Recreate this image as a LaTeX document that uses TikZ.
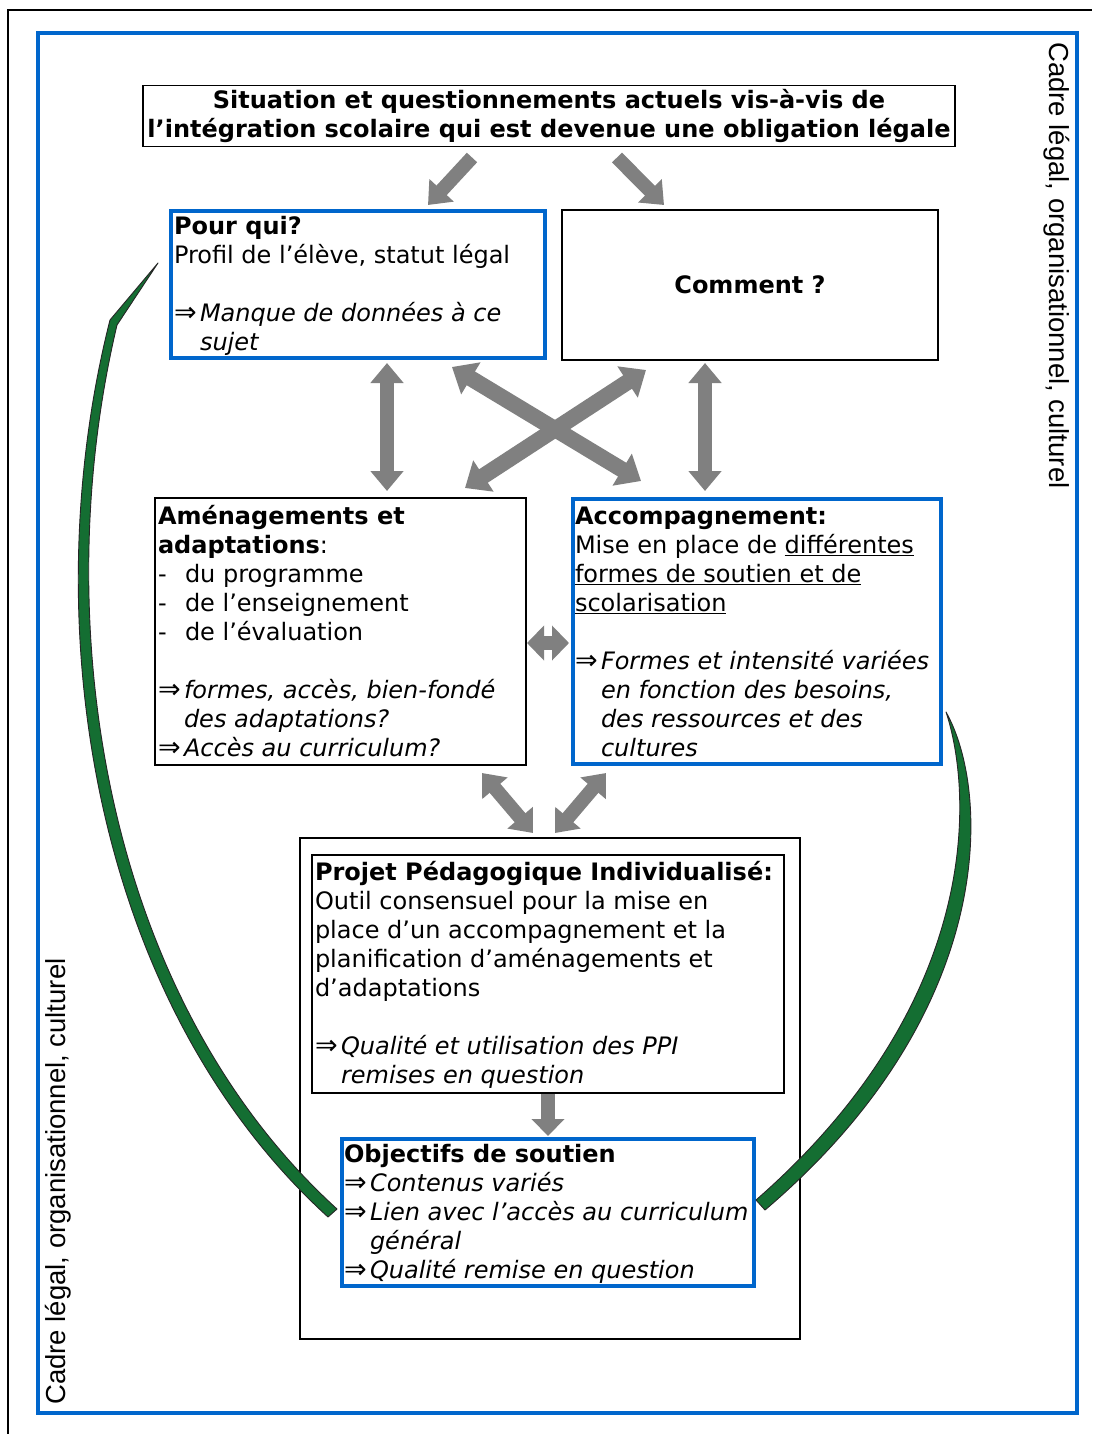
\documentclass[tikz,border=0pt]{standalone}
\usepackage{fontspec}
\setmainfont{DejaVu Sans}
\newfontfamily\sidefont{Liberation Sans}
\usetikzlibrary{arrows.meta,calc}

\definecolor{frameblue}{RGB}{0,102,204}
\definecolor{arrowgray}{RGB}{128,128,128}
\definecolor{leafgreen}{RGB}{20,110,50}

% implication arrow with hanging indent, and list dash
\newcommand\imp{\makebox[26pt][l]{\fontsize{27}{27}\selectfont ⇒}}
\newcommand\ind{\hspace*{26pt}}
\newcommand\itemdash{\makebox[27pt][l]{-}}

\tikzset{
  boxbase/.style={draw, outer sep=0pt, inner sep=0pt, anchor=north west},
  plainbox/.style={boxbase, line width=1.3pt},
  bluebox/.style={boxbase, draw=frameblue, line width=4pt},
  txt/.style={inner sep=0pt, outer sep=0pt, anchor=base west, font=\fontsize{24}{29}\selectfont},
  sidetext/.style={inner sep=0pt, font=\sidefont\fontsize{27.5}{30}\selectfont},
  garrow/.style={draw=arrowgray, line width=14pt, -{Triangle[length=20pt,width=32pt]}},
  gdouble/.style={draw=arrowgray, line width=14pt,
     {Triangle[length=20pt,width=32pt]}-{Triangle[length=20pt,width=32pt]}},
  gcross/.style={draw=arrowgray, line width=16pt,
     {Triangle[length=22pt,width=36pt]}-{Triangle[length=22pt,width=36pt]}},
  gshort/.style={draw=arrowgray, line width=14pt,
     {Triangle[length=17pt,width=34pt]}-{Triangle[length=17pt,width=34pt]}},
  gdown/.style={draw=arrowgray, line width=14pt, -{Triangle[length=17pt,width=32pt]}},
  leaf/.style={fill=leafgreen, draw=black!85, line width=0.9pt, line join=round},
}

\begin{document}
\begin{tikzpicture}[x=1pt, y=-1pt]
\useasboundingbox (0,0) rectangle (1092,1434);
\fill[white] (0,0) rectangle (1092,1434);

% outer frames
\draw[line width=1.5pt] (8,1434) -- (8,10) -- (1092,10);
\draw[frameblue, line width=4pt] (38,33) rectangle (1077,1413);

% side labels
\node[sidetext, rotate=-90, anchor=west] (cadreR) at (1057,42) {Cadre légal, organisationnel, culturel};
\node[sidetext, rotate=90, anchor=west] (cadreL) at (58,1405) {Cadre légal, organisationnel, culturel};

% top question
\node[draw, line width=1.3pt, outer sep=0pt, minimum width=812pt, minimum height=61pt,
      align=center, font=\bfseries\fontsize{24}{29}\selectfont] (top) at (549,116)
  {Situation et questionnements actuels vis-à-vis de\\l’intégration scolaire qui est devenue une obligation légale};

% boxes
\node[bluebox, minimum width=374pt, minimum height=147pt] (pour) at (171,211) {};
\node[txt] (pourtxt) at (174,234) {\parbox[t]{370pt}{%
  \textbf{Pour qui?}\\
  Profil de l’élève, statut légal\\[29pt]
  \imp\textit{Manque de données à ce}\\
  \ind\textit{sujet}}};

\node[draw, line width=1.3pt, outer sep=0pt, minimum width=376pt, minimum height=150pt,
      font=\bfseries\fontsize{24}{29}\selectfont] (comment) at (750,285) {Comment ?};

\node[plainbox, minimum width=371pt, minimum height=267pt] (amen) at (155,498) {};
\node[txt] (amentxt) at (158,524) {\parbox[t]{366pt}{%
  \textbf{Aménagements et}\\
  \textbf{adaptations}:\\
  \itemdash du programme\\
  \itemdash de l’enseignement\\
  \itemdash de l’évaluation\\[29pt]
  \imp\textit{formes, accès, bien-fondé}\\
  \ind\textit{des adaptations?}\\
  \imp\textit{Accès au curriculum?}}};

\node[bluebox, minimum width=368pt, minimum height=265pt] (accomp) at (573,499) {};
\node[txt] (accomptxt) at (575,524) {\parbox[t]{366pt}{%
  \textbf{Accompagnement:}\\
  Mise en place de \underline{différentes}\\
  \underline{formes de soutien et de}\\
  \underline{scolarisation}\\[29pt]
  \imp\textit{Formes et intensité variées}\\
  \ind\textit{en fonction des besoins,}\\
  \ind\textit{des ressources et des}\\
  \ind\textit{cultures}}};

\node[plainbox, minimum width=500pt, minimum height=501pt] (ppiouter) at (300,838) {};
\node[plainbox, minimum width=472pt, minimum height=238pt] (ppi) at (312,855) {};
\node[txt] (ppitxt) at (315,880) {\parbox[t]{466pt}{%
  \textbf{Projet Pédagogique Individualisé:}\\
  Outil consensuel pour la mise en\\
  place d’un accompagnement et la\\
  planification d’aménagements et\\
  d’adaptations\\[29pt]
  \imp\textit{Qualité et utilisation des PPI}\\
  \ind\textit{remises en question}}};

\node[bluebox, minimum width=412pt, minimum height=147pt] (obj) at (342,1139) {};
\node[txt] (objtxt) at (344,1162) {\parbox[t]{410pt}{%
  \textbf{Objectifs de soutien}\\
  \imp\textit{Contenus variés}\\
  \imp\textit{Lien avec l’accès au curriculum}\\
  \ind\textit{général}\\
  \imp\textit{Qualité remise en question}}};

% grey block arrows
\draw[garrow] ($(top.south)+(-77,11)$) -- ($(pour.north)+(70,-6)$);
\draw[garrow] ($(top.south)+(68,11)$) -- ($(comment.north)+(-86,-5)$);
\draw[gdouble] ($(pour.south)+(29,5)$) -- ($(amen.north)+(46.5,-7)$);
\draw[gdouble] ($(comment.south)+(-45,3)$) -- ($(accomp.north)+(-52,-8)$);
\draw[gcross] ($(pour.south)+(94,9)$) -- ($(accomp.north)+(-116,-18)$);
\draw[gcross] ($(comment.south)+(-104,10)$) -- ($(amen.north)+(124.5,-10)$);
\draw[gshort] ($(amen.east)+(1,11.5)$) -- ($(accomp.west)+(-4,11.5)$);
\draw[gdouble] ($(amen.south)+(141.5,8)$) -- ($(ppiouter.north)+(-17,-5)$);
\draw[gdouble] ($(accomp.south)+(-151,9)$) -- ($(ppiouter.north)+(5,-5)$);
\draw[gdown] ($(ppi.south)+(0,1)$) -- ($(obj.north)+(0,-3)$);

% green leaf-shaped links
\coordinate (lTip) at ($(pour.west)+(-13,-21.5)$);
\coordinate (lEndA) at ($(obj.west)+(-14,4.5)$);
\coordinate (lEndB) at ($(obj.west)+(-5,-3.5)$);
\draw[leaf] (lTip) -- (110,320) .. controls (34,620) and (90,1000) .. (lEndA)
  -- (lEndB) .. controls (102,995) and (47,620) .. (117,325) -- cycle;

\coordinate (rTip) at ($(accomp.south east)+(5,-52)$);
\coordinate (rEndA) at ($(obj.east)+(11,-2.5)$);
\coordinate (rEndB) at ($(obj.east)+(2,-12.5)$);
\draw[leaf] (rTip) .. controls (990,790) and (1000,1010) .. (rEndA)
  -- (rEndB) .. controls (985,1000) and (972,790) .. (rTip) -- cycle;
\end{tikzpicture}
\end{document}
